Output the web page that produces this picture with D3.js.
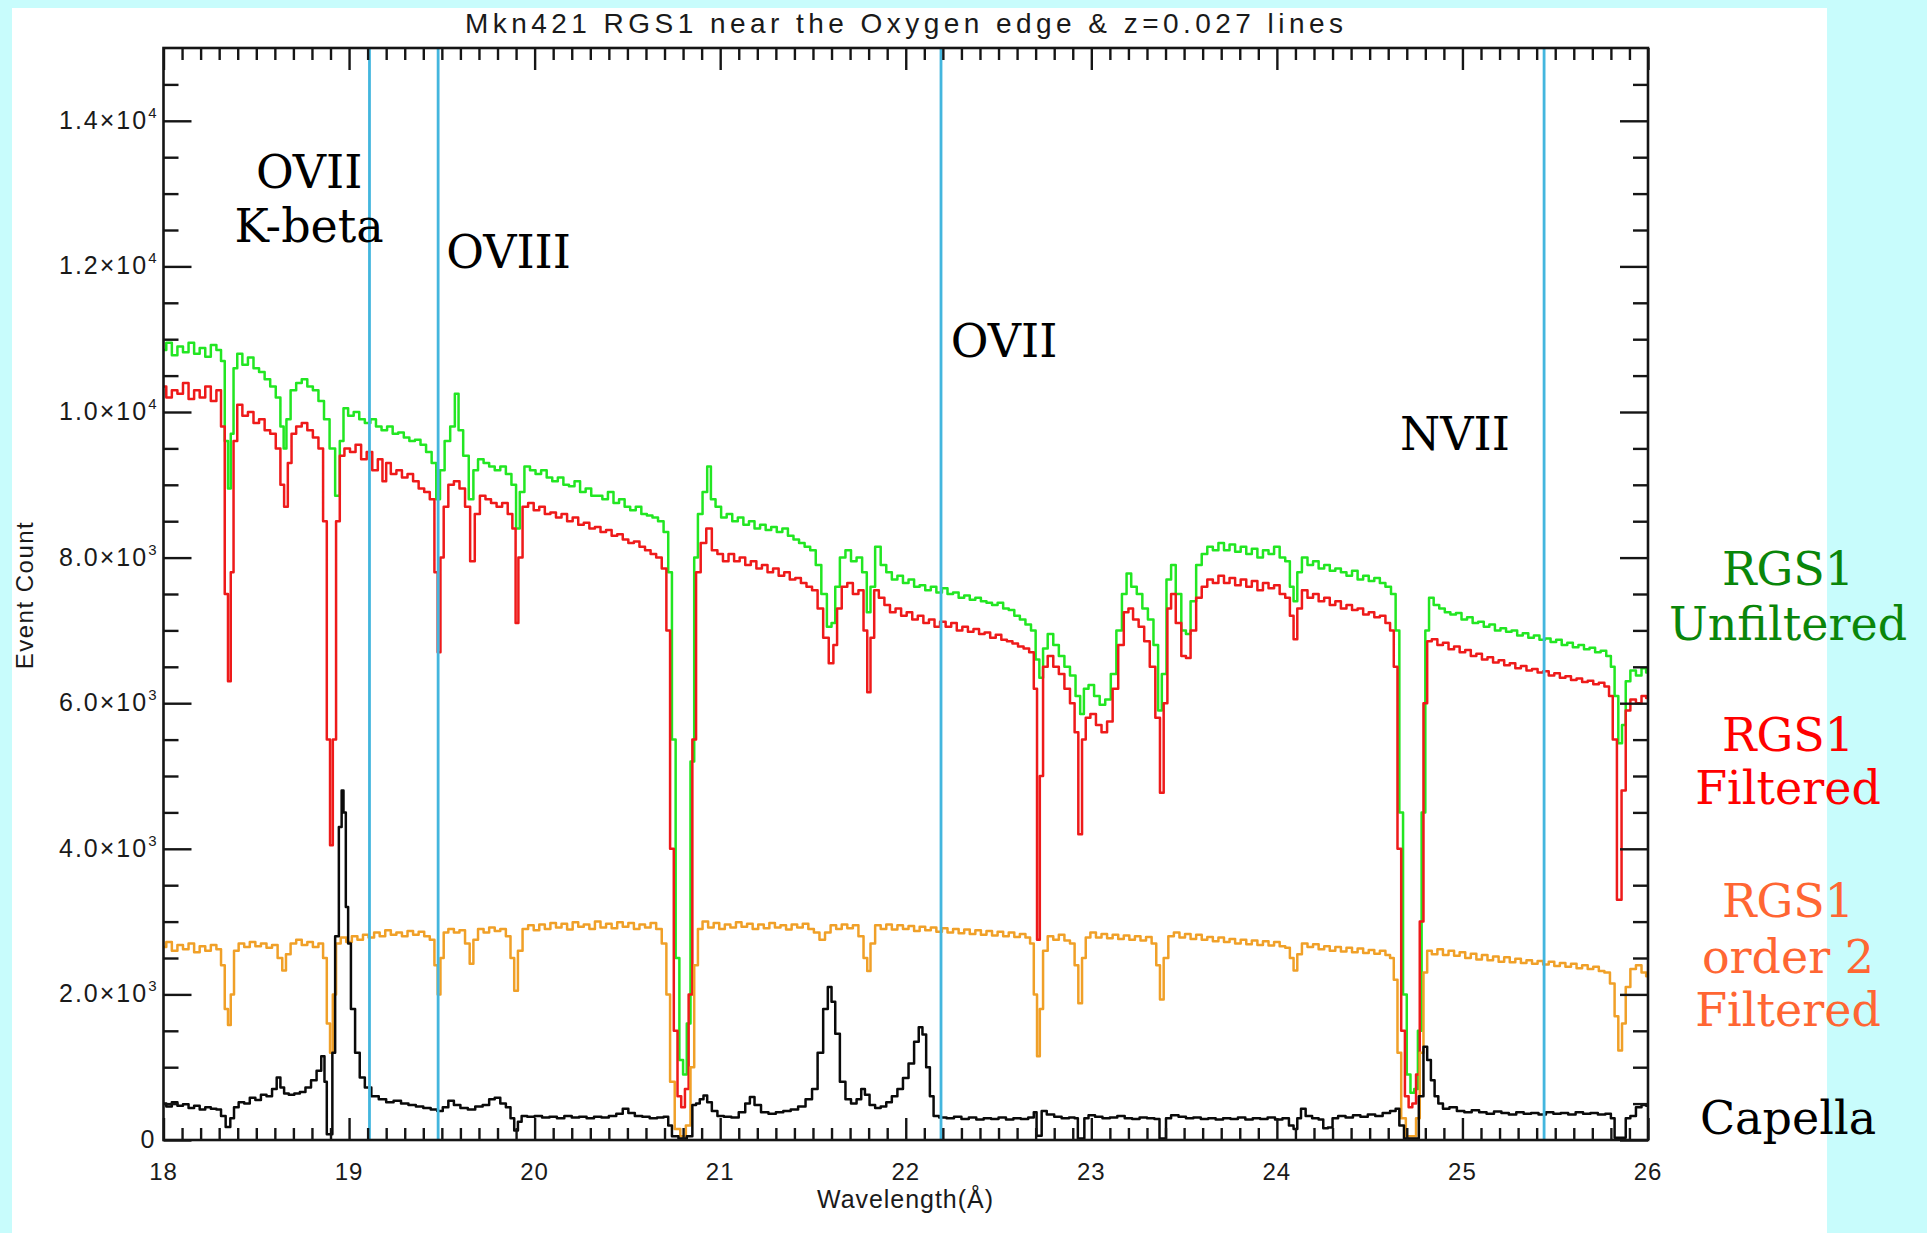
<!DOCTYPE html>
<html>
<head>
<meta charset="utf-8">
<script src="https://cdn.jsdelivr.net/npm/d3@7"></script>
<style>
  html, body { margin: 0; padding: 0; background: #c8fcfc; }
  svg { display: block; }
</style>
</head>
<body>
<svg id="chart" width="1927" height="1233"></svg>
<script>
// RGS1 spectra of Mkn421 around the oxygen edge, [wavelength (Å), event count]
const greenUnfiltered = [
  [18.00,10850],[18.03,10950],[18.06,10780],[18.09,10900],[18.12,10820],[18.15,10950],[18.18,10800],[18.21,10880],
  [18.24,10760],[18.27,10920],[18.30,10850],[18.32,10700],[18.34,9600],[18.355,8950],[18.37,9700],[18.385,10600],
  [18.41,10800],[18.44,10650],[18.47,10750],[18.50,10600],[18.53,10550],[18.56,10450],[18.59,10350],[18.62,10200],
  [18.64,9800],[18.655,9500],[18.67,9900],[18.70,10300],[18.73,10400],[18.76,10450],[18.79,10350],[18.82,10300],
  [18.85,10150],[18.88,9900],[18.91,9500],[18.94,8850],[18.96,9600],[18.98,10050],[19.01,9950],[19.04,10000],
  [19.07,9900],[19.10,9850],[19.13,9900],[19.16,9800],[19.19,9750],[19.22,9800],[19.25,9700],[19.28,9720],
  [19.31,9650],[19.34,9600],[19.37,9620],[19.40,9550],[19.43,9450],[19.46,9300],[19.48,8800],[19.50,9200],
  [19.53,9600],[19.56,9800],[19.58,10250],[19.60,9750],[19.63,9400],[19.66,8800],[19.68,9200],[19.71,9350],
  [19.74,9300],[19.77,9250],[19.80,9200],[19.83,9250],[19.86,9150],[19.89,9000],[19.91,8400],[19.93,8900],
  [19.96,9250],[19.99,9200],[20.02,9150],[20.05,9200],[20.08,9100],[20.11,9050],[20.14,9100],[20.17,9000],
  [20.20,8980],[20.23,9050],[20.26,8900],[20.29,8950],[20.32,8850],[20.35,8850],[20.38,8800],[20.41,8900],
  [20.44,8750],[20.47,8800],[20.50,8700],[20.53,8650],[20.56,8700],[20.59,8600],[20.62,8580],[20.65,8550],
  [20.68,8500],[20.71,8350],[20.73,7800],[20.75,5500],[20.77,2500],[20.79,1100],[20.81,900],[20.83,1600],
  [20.85,5200],[20.87,8000],[20.89,8600],[20.92,8900],[20.94,9250],[20.96,8800],[20.99,8700],[21.02,8550],
  [21.05,8600],[21.08,8500],[21.11,8550],[21.14,8450],[21.17,8500],[21.20,8400],[21.23,8450],[21.26,8380],
  [21.29,8420],[21.32,8350],[21.35,8400],[21.38,8300],[21.41,8250],[21.44,8200],[21.47,8150],[21.50,8100],
  [21.53,7900],[21.56,7500],[21.59,7050],[21.61,7100],[21.63,7600],[21.66,8000],[21.69,8100],[21.72,7950],
  [21.75,8000],[21.78,7800],[21.80,7250],[21.82,7600],[21.85,8150],[21.88,7900],[21.91,7800],[21.94,7700],
  [21.97,7750],[22.00,7650],[22.03,7700],[22.06,7600],[22.09,7620],[22.12,7550],[22.15,7600],[22.18,7520],
  [22.21,7580],[22.24,7500],[22.27,7520],[22.30,7450],[22.33,7480],[22.36,7420],[22.39,7450],[22.42,7400],
  [22.45,7380],[22.48,7350],[22.51,7380],[22.54,7300],[22.57,7280],[22.60,7200],[22.63,7150],[22.66,7080],
  [22.69,7000],[22.71,6600],[22.73,6350],[22.75,6750],[22.78,6950],[22.81,6800],[22.84,6650],[22.87,6500],
  [22.90,6380],[22.93,6100],[22.95,5850],[22.97,6200],[23.00,6250],[23.03,6100],[23.06,5980],[23.09,6050],
  [23.12,6400],[23.15,7000],[23.18,7500],[23.20,7780],[23.23,7600],[23.26,7500],[23.29,7300],[23.32,7150],
  [23.35,6800],[23.37,5900],[23.39,6400],[23.42,7700],[23.44,7900],[23.47,7500],[23.50,7000],[23.52,6950],
  [23.55,7400],[23.58,7900],[23.61,8050],[23.64,8150],[23.67,8100],[23.70,8200],[23.73,8100],[23.76,8180],
  [23.79,8080],[23.82,8150],[23.85,8050],[23.88,8120],[23.91,8000],[23.94,8100],[23.97,8050],[24.00,8150],
  [24.03,8000],[24.06,7950],[24.08,7600],[24.10,7400],[24.12,7800],[24.15,8000],[24.18,7900],[24.21,7950],
  [24.24,7850],[24.27,7900],[24.30,7820],[24.33,7850],[24.36,7800],[24.39,7750],[24.42,7820],[24.45,7700],
  [24.48,7750],[24.51,7680],[24.54,7720],[24.57,7650],[24.60,7600],[24.63,7500],[24.65,7000],[24.67,4500],
  [24.69,2000],[24.71,900],[24.73,650],[24.75,700],[24.77,1500],[24.79,4500],[24.81,7000],[24.83,7450],
  [24.86,7350],[24.89,7300],[24.92,7250],[24.95,7220],[24.98,7240],[25.01,7150],[25.04,7180],[25.07,7100],
  [25.10,7120],[25.13,7050],[25.16,7080],[25.19,7000],[25.22,7030],[25.25,6980],[25.28,7000],[25.31,6930],
  [25.34,6960],[25.37,6900],[25.40,6930],[25.43,6870],[25.46,6890],[25.49,6840],[25.52,6870],[25.55,6800],
  [25.58,6830],[25.61,6770],[25.64,6800],[25.67,6740],[25.70,6760],[25.73,6700],[25.76,6720],[25.79,6650],
  [25.81,6500],[25.83,6100],[25.85,5450],[25.87,5700],[25.89,6300],[25.92,6450],[25.95,6380],[25.98,6480],
  [26.00,6420]
];

const redFiltered = [
  [18.00,10350],[18.03,10200],[18.06,10300],[18.09,10250],[18.12,10400],[18.15,10180],[18.18,10300],[18.21,10200],
  [18.24,10350],[18.27,10150],[18.30,10300],[18.32,9800],[18.34,7500],[18.355,6300],[18.37,7800],[18.385,9600],
  [18.41,10100],[18.44,9950],[18.47,10000],[18.50,9850],[18.53,9900],[18.56,9750],[18.59,9700],[18.62,9500],
  [18.64,9000],[18.66,8700],[18.68,9300],[18.70,9700],[18.73,9800],[18.76,9850],[18.79,9750],[18.82,9650],
  [18.85,9500],[18.87,8500],[18.89,5500],[18.905,4050],[18.92,5500],[18.94,8500],[18.96,9400],[18.99,9500],
  [19.02,9450],[19.05,9550],[19.08,9350],[19.11,9450],[19.14,9200],[19.17,9350],[19.19,9050],[19.21,9300],
  [19.24,9150],[19.27,9200],[19.30,9100],[19.33,9150],[19.36,9050],[19.39,8950],[19.42,8900],[19.45,8800],
  [19.47,7800],[19.485,6700],[19.50,8000],[19.52,8700],[19.55,9000],[19.58,9050],[19.61,8950],[19.64,8700],
  [19.665,7950],[19.69,8600],[19.72,8850],[19.75,8800],[19.78,8750],[19.81,8700],[19.84,8750],[19.87,8600],
  [19.89,8400],[19.905,7100],[19.92,8000],[19.95,8700],[19.98,8750],[20.01,8650],[20.04,8700],[20.07,8600],
  [20.10,8620],[20.13,8550],[20.16,8600],[20.19,8500],[20.22,8550],[20.25,8450],[20.28,8480],[20.31,8400],
  [20.34,8420],[20.37,8350],[20.40,8380],[20.43,8300],[20.46,8320],[20.49,8250],[20.52,8200],[20.55,8220],
  [20.58,8150],[20.61,8100],[20.64,8050],[20.67,8000],[20.70,7850],[20.72,7000],[20.74,4000],[20.76,1500],
  [20.78,600],[20.80,450],[20.82,700],[20.84,2000],[20.86,5500],[20.88,7800],[20.91,8200],[20.94,8400],
  [20.97,8100],[21.00,8050],[21.03,7950],[21.06,8050],[21.09,7950],[21.12,8000],[21.15,7900],[21.18,7950],
  [21.21,7850],[21.24,7900],[21.27,7800],[21.30,7850],[21.33,7750],[21.36,7800],[21.39,7700],[21.42,7720],
  [21.45,7650],[21.48,7600],[21.51,7550],[21.54,7300],[21.57,6900],[21.60,6550],[21.62,6800],[21.64,7300],
  [21.67,7600],[21.70,7650],[21.73,7500],[21.76,7550],[21.785,7000],[21.80,6150],[21.82,6900],[21.84,7550],
  [21.87,7450],[21.90,7350],[21.93,7250],[21.96,7300],[21.99,7200],[22.02,7250],[22.05,7150],[22.08,7200],
  [22.11,7100],[22.14,7150],[22.17,7050],[22.20,7120],[22.23,7050],[22.26,7100],[22.29,7000],[22.32,7050],
  [22.35,6980],[22.38,7020],[22.41,6950],[22.44,6970],[22.47,6900],[22.50,6940],[22.53,6870],[22.56,6850],
  [22.59,6820],[22.62,6780],[22.65,6750],[22.68,6700],[22.70,6200],[22.715,2750],[22.73,5000],[22.75,6500],
  [22.78,6650],[22.81,6500],[22.84,6400],[22.87,6200],[22.90,6000],[22.92,5600],[22.94,4200],[22.96,5500],
  [22.98,5800],[23.01,5850],[23.04,5700],[23.07,5600],[23.10,5750],[23.13,6200],[23.16,6800],[23.19,7250],
  [23.21,7300],[23.24,7150],[23.27,7050],[23.30,6850],[23.33,6500],[23.36,5800],[23.38,4770],[23.40,6000],
  [23.42,7300],[23.44,7500],[23.47,7100],[23.50,6650],[23.52,6620],[23.55,7000],[23.58,7450],[23.61,7600],
  [23.64,7700],[23.67,7650],[23.70,7750],[23.73,7650],[23.76,7720],[23.79,7620],[23.82,7700],[23.85,7600],
  [23.88,7680],[23.91,7550],[23.94,7650],[23.97,7580],[24.00,7620],[24.03,7500],[24.06,7450],[24.08,7200],
  [24.10,6880],[24.12,7300],[24.15,7550],[24.18,7450],[24.21,7500],[24.24,7400],[24.27,7450],[24.30,7350],
  [24.33,7400],[24.36,7300],[24.39,7350],[24.42,7280],[24.45,7300],[24.48,7220],[24.51,7250],[24.54,7180],
  [24.57,7200],[24.60,7100],[24.62,7000],[24.64,6500],[24.66,4000],[24.68,1500],[24.70,600],[24.72,450],
  [24.74,500],[24.76,900],[24.78,3000],[24.80,6000],[24.82,6850],[24.85,6880],[24.88,6800],[24.91,6830],
  [24.94,6740],[24.97,6780],[25.00,6700],[25.03,6730],[25.06,6650],[25.09,6680],[25.12,6600],[25.15,6630],
  [25.18,6560],[25.21,6590],[25.24,6520],[25.27,6550],[25.30,6480],[25.33,6510],[25.36,6450],[25.39,6470],
  [25.42,6420],[25.45,6440],[25.48,6380],[25.51,6410],[25.54,6350],[25.57,6370],[25.60,6320],[25.63,6340],
  [25.66,6290],[25.69,6310],[25.72,6260],[25.75,6280],[25.78,6230],[25.80,6100],[25.82,5500],[25.845,3300],
  [25.87,4800],[25.89,5900],[25.92,6050],[25.95,6000],[25.98,6100],[26.00,6070]
];

const orangeOrder2 = [
  [18.00,2650],[18.03,2720],[18.06,2600],[18.09,2680],[18.12,2620],[18.15,2700],[18.18,2580],[18.21,2660],
  [18.24,2600],[18.27,2680],[18.30,2620],[18.32,2400],[18.34,1800],[18.355,1580],[18.37,2000],[18.39,2600],
  [18.42,2700],[18.45,2650],[18.48,2720],[18.51,2660],[18.54,2700],[18.57,2640],[18.60,2680],[18.63,2500],
  [18.65,2330],[18.67,2550],[18.70,2700],[18.73,2750],[18.76,2680],[18.79,2720],[18.82,2650],[18.85,2700],
  [18.87,2500],[18.89,1600],[18.905,1200],[18.92,2000],[18.94,2700],[18.97,2780],[19.00,2720],[19.03,2800],
  [19.06,2750],[19.09,2820],[19.12,2780],[19.15,2850],[19.18,2800],[19.21,2880],[19.24,2820],[19.27,2850],
  [19.30,2800],[19.33,2870],[19.36,2820],[19.39,2860],[19.42,2800],[19.45,2750],[19.47,2400],[19.485,2000],
  [19.50,2500],[19.52,2850],[19.55,2900],[19.58,2850],[19.61,2880],[19.64,2700],[19.66,2420],[19.68,2750],
  [19.71,2900],[19.74,2850],[19.77,2920],[19.80,2870],[19.83,2900],[19.86,2800],[19.88,2500],[19.90,2050],
  [19.92,2600],[19.95,2900],[19.98,2950],[20.01,2880],[20.04,2960],[20.07,2900],[20.10,2980],[20.13,2920],
  [20.16,2970],[20.19,2890],[20.22,2990],[20.25,2930],[20.28,2960],[20.31,2900],[20.34,3000],[20.37,2920],
  [20.40,2970],[20.43,2910],[20.46,2990],[20.49,2930],[20.52,2980],[20.55,2900],[20.58,2960],[20.61,2920],
  [20.64,2980],[20.67,2900],[20.70,2700],[20.72,2000],[20.74,800],[20.77,150],[20.80,50],[20.83,200],
  [20.85,1000],[20.87,2400],[20.89,2900],[20.92,3000],[20.95,2920],[20.98,2980],[21.01,2900],[21.04,2960],
  [21.07,2920],[21.10,2990],[21.13,2930],[21.16,2970],[21.19,2900],[21.22,2960],[21.25,2910],[21.28,2980],
  [21.31,2920],[21.34,2950],[21.37,2890],[21.40,2960],[21.43,2920],[21.46,2970],[21.49,2900],[21.52,2850],
  [21.55,2750],[21.58,2850],[21.61,2950],[21.64,2900],[21.67,2960],[21.70,2910],[21.73,2950],[21.76,2800],
  [21.785,2500],[21.80,2320],[21.82,2700],[21.85,2950],[21.88,2900],[21.91,2960],[21.94,2890],[21.97,2950],
  [22.00,2900],[22.03,2940],[22.06,2870],[22.09,2930],[22.12,2880],[22.15,2920],[22.18,2860],[22.21,2910],
  [22.24,2850],[22.27,2900],[22.30,2840],[22.33,2890],[22.36,2830],[22.39,2880],[22.42,2820],[22.45,2870],
  [22.48,2810],[22.51,2860],[22.54,2800],[22.57,2850],[22.60,2790],[22.63,2830],[22.66,2780],[22.68,2700],
  [22.70,2000],[22.715,1150],[22.73,1800],[22.75,2600],[22.78,2800],[22.81,2750],[22.84,2820],[22.87,2740],
  [22.90,2700],[22.92,2400],[22.94,1880],[22.96,2500],[22.98,2780],[23.01,2850],[23.04,2780],[23.07,2830],
  [23.10,2770],[23.13,2820],[23.16,2760],[23.19,2810],[23.22,2750],[23.25,2800],[23.28,2740],[23.31,2790],
  [23.34,2700],[23.36,2400],[23.38,1930],[23.40,2500],[23.43,2800],[23.46,2850],[23.49,2780],[23.52,2830],
  [23.55,2760],[23.58,2820],[23.61,2750],[23.64,2790],[23.67,2730],[23.70,2780],[23.73,2720],[23.76,2760],
  [23.79,2700],[23.82,2750],[23.85,2690],[23.88,2740],[23.91,2680],[23.94,2730],[23.97,2670],[24.00,2720],
  [24.03,2660],[24.06,2640],[24.08,2500],[24.10,2330],[24.12,2550],[24.15,2700],[24.18,2650],[24.21,2690],
  [24.24,2620],[24.27,2660],[24.30,2600],[24.33,2650],[24.36,2590],[24.39,2640],[24.42,2580],[24.45,2630],
  [24.48,2570],[24.51,2610],[24.54,2560],[24.57,2600],[24.60,2540],[24.62,2500],[24.64,2200],[24.66,1200],
  [24.68,300],[24.71,50],[24.74,50],[24.76,300],[24.78,1200],[24.80,2300],[24.82,2600],[24.85,2550],
  [24.88,2620],[24.91,2540],[24.94,2600],[24.97,2530],[25.00,2580],[25.03,2500],[25.06,2560],[25.09,2480],
  [25.12,2540],[25.15,2470],[25.18,2520],[25.21,2450],[25.24,2510],[25.27,2440],[25.30,2490],[25.33,2430],
  [25.36,2470],[25.39,2420],[25.42,2460],[25.45,2410],[25.48,2450],[25.51,2390],[25.54,2430],[25.57,2380],
  [25.60,2420],[25.63,2360],[25.66,2400],[25.69,2350],[25.72,2380],[25.75,2320],[25.78,2300],[25.81,2150],
  [25.83,1700],[25.85,1230],[25.87,1600],[25.89,2100],[25.92,2350],[25.95,2400],[25.98,2300],[26.00,2250]
];

const capella = [
  [18.00,500],[18.03,460],[18.06,520],[18.09,470],[18.12,490],[18.15,440],[18.18,470],[18.21,420],
  [18.24,450],[18.27,430],[18.30,420],[18.32,330],[18.35,180],[18.37,300],[18.39,450],[18.42,520],
  [18.45,500],[18.48,580],[18.51,550],[18.54,620],[18.57,600],[18.60,700],[18.62,860],[18.64,720],
  [18.66,640],[18.69,620],[18.72,640],[18.75,660],[18.78,720],[18.81,820],[18.84,950],[18.86,1150],
  [18.875,800],[18.885,80],[18.905,80],[18.915,1200],[18.935,2800],[18.955,4300],[18.965,4800],[18.975,4500],
  [18.99,3200],[19.00,2700],[19.02,1800],[19.045,1200],[19.07,860],[19.10,720],[19.14,600],[19.18,560],
  [19.22,520],[19.26,540],[19.30,500],[19.34,480],[19.38,460],[19.42,440],[19.46,420],[19.49,400],
  [19.52,450],[19.55,540],[19.58,480],[19.62,440],[19.66,420],[19.70,460],[19.74,480],[19.77,560],
  [19.80,580],[19.83,500],[19.86,450],[19.88,300],[19.90,130],[19.92,250],[19.94,330],[19.98,320],
  [20.02,330],[20.06,310],[20.10,320],[20.14,300],[20.18,330],[20.22,310],[20.26,320],[20.30,300],
  [20.34,320],[20.38,310],[20.42,330],[20.46,360],[20.49,430],[20.52,370],[20.56,330],[20.60,320],
  [20.64,300],[20.68,310],[20.71,320],[20.73,200],[20.75,50],[20.80,20],[20.84,50],[20.86,480],
  [20.88,500],[20.90,560],[20.92,610],[20.94,520],[20.97,400],[21.00,330],[21.04,320],[21.08,310],
  [21.12,380],[21.15,500],[21.17,590],[21.20,480],[21.24,380],[21.28,360],[21.32,380],[21.36,400],
  [21.40,420],[21.44,460],[21.48,560],[21.51,700],[21.54,1200],[21.57,1800],[21.59,2100],[21.61,1900],
  [21.63,1460],[21.66,800],[21.69,560],[21.72,500],[21.75,560],[21.77,700],[21.79,620],[21.82,480],
  [21.85,440],[21.88,460],[21.91,520],[21.94,600],[21.97,700],[22.00,850],[22.03,1050],[22.06,1350],
  [22.08,1550],[22.10,1450],[22.12,1000],[22.14,600],[22.16,330],[22.20,310],[22.24,300],[22.28,320],
  [22.32,290],[22.36,310],[22.40,280],[22.44,300],[22.48,290],[22.52,310],[22.56,280],[22.60,300],
  [22.64,290],[22.68,310],[22.70,380],[22.71,60],[22.725,60],[22.74,400],[22.78,350],[22.82,320],
  [22.86,300],[22.90,310],[22.92,300],[22.935,20],[22.955,20],[22.97,300],[23.00,340],[23.04,320],
  [23.08,300],[23.12,310],[23.16,330],[23.20,300],[23.24,290],[23.28,310],[23.32,300],[23.36,290],
  [23.375,20],[23.395,20],[23.41,300],[23.45,340],[23.49,320],[23.53,300],[23.57,310],[23.61,290],
  [23.65,300],[23.69,280],[23.73,300],[23.77,290],[23.81,310],[23.85,280],[23.89,300],[23.93,290],
  [23.97,310],[24.01,280],[24.05,300],[24.08,200],[24.10,150],[24.12,300],[24.14,430],[24.17,330],
  [24.21,300],[24.24,280],[24.26,160],[24.29,170],[24.31,300],[24.35,330],[24.39,310],[24.43,340],
  [24.47,320],[24.51,350],[24.55,330],[24.59,370],[24.63,400],[24.65,430],[24.67,200],[24.70,20],
  [24.75,20],[24.78,600],[24.80,1280],[24.82,1100],[24.84,820],[24.86,600],[24.88,500],[24.91,430],
  [24.95,450],[24.99,400],[25.03,380],[25.07,410],[25.11,380],[25.15,360],[25.19,390],[25.23,370],
  [25.27,350],[25.31,380],[25.35,360],[25.39,370],[25.43,350],[25.47,380],[25.51,360],[25.55,370],
  [25.59,350],[25.63,380],[25.67,360],[25.71,370],[25.75,350],[25.79,360],[25.81,300],[25.83,30],
  [25.87,30],[25.89,300],[25.92,330],[25.95,450],[25.98,480],[26.00,470]
];

// Redshifted (z = 0.027) line positions, Å
const lineWavelengths = [19.11, 19.48, 22.19, 25.44];

// Ion annotations: text lines, centre x in Å, baseline counts
const ionLabels = [
  { lines: ["OVII", "K-beta"], at: 18.785, counts: [13080, 12330] },
  { lines: ["OVIII"], at: 19.86, counts: [11980] },
  { lines: ["OVII"], at: 22.53, counts: [10750] },
  { lines: ["NVII"], at: 24.96, counts: [9480] }
];

// Series legend on the right
const legendEntries = [
  { lines: ["RGS1", "Unfiltered"], color: "#0a860a", counts: [7620, 6870] },
  { lines: ["RGS1", "Filtered"], color: "#ff0000", counts: [5350, 4620] },
  { lines: ["RGS1", "order 2", "Filtered"], color: "#ff6633", counts: [3070, 2300, 1570] },
  { lines: ["Capella"], color: "#000000", counts: [80] }
];

const xDomain = [18, 26];
const yDomain = [0, 15000];
const xMajorTicks = d3.range(18, 27, 1);
const xMinorTicks = d3.range(181, 260).filter(i => i % 10 !== 0).map(i => i / 10);
const yMajorTicks = d3.range(0, 15000, 2000);
const yMinorTicks = d3.range(500, 15000, 500).filter(v => v % 2000 !== 0);

const titleText = "Mkn421  RGS1  near the Oxygen edge & z=0.027 lines";
const xTitle = "Wavelength(Å)";
const yTitle = "Event Count";

// ---- drawing ----
const svg = d3.select("#chart");
const plot = { left: 163.5, right: 1648, top: 48, bottom: 1140 };

svg.append("rect").attr("x", 0).attr("y", 0).attr("width", 1927).attr("height", 1233).attr("fill", "#c8fcfc");
svg.append("rect").attr("x", 12).attr("y", 8).attr("width", 1815).attr("height", 1225).attr("fill", "#ffffff");

const x = d3.scaleLinear().domain(xDomain).range([plot.left, plot.right]);
const y = d3.scaleLinear().domain(yDomain).range([plot.bottom, plot.top]);

svg.append("defs").append("clipPath").attr("id", "plotClip")
  .append("rect").attr("x", plot.left).attr("y", plot.top)
  .attr("width", plot.right - plot.left).attr("height", plot.bottom - plot.top);

// histogram-style spectra
const line = d3.line().x(d => x(d[0])).y(d => y(d[1])).curve(d3.curveStep);
const curves = svg.append("g").attr("clip-path", "url(#plotClip)");

[
  { data: greenUnfiltered, color: "#22e622" },
  { data: redFiltered, color: "#ee1a1a" },
  { data: orangeOrder2, color: "#f0a028" },
  { data: capella, color: "#0a0a0a" }
].forEach(s => {
  curves.append("path").datum(s.data)
    .attr("d", line).attr("fill", "none")
    .attr("stroke", s.color).attr("stroke-width", 2.5)
    .attr("stroke-linejoin", "round");
});

// z = 0.027 line markers
curves.selectAll("line.zline").data(lineWavelengths).enter().append("line")
  .attr("class", "zline")
  .attr("x1", d => x(d)).attr("x2", d => x(d))
  .attr("y1", plot.top).attr("y2", plot.bottom)
  .attr("stroke", "#43b6de").attr("stroke-width", 2.8);

// ticks on all four sides, pointing inward
const axisColor = "#151515";
function styleAxis(g) {
  g.select(".domain").remove();
  g.selectAll(".tick line").attr("stroke", axisColor).attr("stroke-width", 2.4);
}
svg.append("g").attr("transform", `translate(0,${plot.bottom})`)
  .call(d3.axisBottom(x).tickValues(xMajorTicks).tickSize(-22).tickFormat("")).call(styleAxis);
svg.append("g").attr("transform", `translate(0,${plot.bottom})`)
  .call(d3.axisBottom(x).tickValues(xMinorTicks).tickSize(-12).tickFormat("")).call(styleAxis);
svg.append("g").attr("transform", `translate(0,${plot.top})`)
  .call(d3.axisTop(x).tickValues(xMajorTicks).tickSize(-22).tickFormat("")).call(styleAxis);
svg.append("g").attr("transform", `translate(0,${plot.top})`)
  .call(d3.axisTop(x).tickValues(xMinorTicks).tickSize(-12).tickFormat("")).call(styleAxis);
svg.append("g").attr("transform", `translate(${plot.left},0)`)
  .call(d3.axisLeft(y).tickValues(yMajorTicks).tickSize(-28).tickFormat("")).call(styleAxis);
svg.append("g").attr("transform", `translate(${plot.left},0)`)
  .call(d3.axisLeft(y).tickValues(yMinorTicks).tickSize(-15).tickFormat("")).call(styleAxis);
svg.append("g").attr("transform", `translate(${plot.right},0)`)
  .call(d3.axisRight(y).tickValues(yMajorTicks).tickSize(-28).tickFormat("")).call(styleAxis);
svg.append("g").attr("transform", `translate(${plot.right},0)`)
  .call(d3.axisRight(y).tickValues(yMinorTicks).tickSize(-15).tickFormat("")).call(styleAxis);

svg.append("rect").attr("x", plot.left).attr("y", plot.top)
  .attr("width", plot.right - plot.left).attr("height", plot.bottom - plot.top)
  .attr("fill", "none").attr("stroke", axisColor).attr("stroke-width", 2.6);

const sansFont = "'Liberation Sans', Arial, Helvetica, sans-serif";
const serifFont = "'DejaVu Serif', serif";

// x tick labels
svg.append("g").selectAll("text").data(xMajorTicks).enter().append("text")
  .attr("x", d => x(d)).attr("y", plot.bottom + 40)
  .attr("text-anchor", "middle")
  .attr("font-family", sansFont).attr("font-size", 24).attr("letter-spacing", 1)
  .attr("fill", "#1a1a1a").text(d => d);

// y tick labels in m.m×10^e form
const yLab = svg.append("g").selectAll("text").data(yMajorTicks).enter().append("text")
  .attr("x", plot.left - 7).attr("y", d => y(d) + 8)
  .attr("text-anchor", "end")
  .attr("font-family", sansFont).attr("font-size", 25).attr("letter-spacing", 2)
  .attr("fill", "#1a1a1a");
yLab.each(function (d) {
  const t = d3.select(this);
  if (d === 0) { t.text("0"); return; }
  const e = Math.floor(Math.log10(d));
  const m = (d / Math.pow(10, e)).toFixed(1);
  t.append("tspan").text(m + "×10");
  t.append("tspan").attr("dy", -11).attr("font-size", 15).attr("letter-spacing", 0).text(String(e));
});

// title and axis titles
svg.append("text").attr("x", 465).attr("y", 33)
  .attr("font-family", sansFont).attr("font-size", 28)
  .attr("textLength", 878).attr("lengthAdjust", "spacing")
  .attr("fill", "#1a1a1a").text(titleText);
svg.append("text").attr("x", 817).attr("y", 1208)
  .attr("font-family", sansFont).attr("font-size", 25)
  .attr("textLength", 176).attr("lengthAdjust", "spacing")
  .attr("fill", "#1a1a1a").text(xTitle);
svg.append("text").attr("transform", "translate(33,595) rotate(-90)")
  .attr("text-anchor", "middle")
  .attr("font-family", sansFont).attr("font-size", 24).attr("letter-spacing", 1.5)
  .attr("fill", "#1a1a1a").text(yTitle);

// ion annotations
ionLabels.forEach(lab => {
  lab.lines.forEach((s, i) => {
    svg.append("text").attr("x", x(lab.at)).attr("y", y(lab.counts[i]))
      .attr("text-anchor", "middle")
      .attr("font-family", serifFont).attr("font-size", 46)
      .attr("fill", "#000").text(s);
  });
});

// legend
legendEntries.forEach(ent => {
  ent.lines.forEach((s, i) => {
    svg.append("text").attr("x", 1788).attr("y", y(ent.counts[i]))
      .attr("text-anchor", "middle")
      .attr("font-family", serifFont).attr("font-size", 46)
      .attr("fill", ent.color).text(s);
  });
});
</script>
</body>
</html>
